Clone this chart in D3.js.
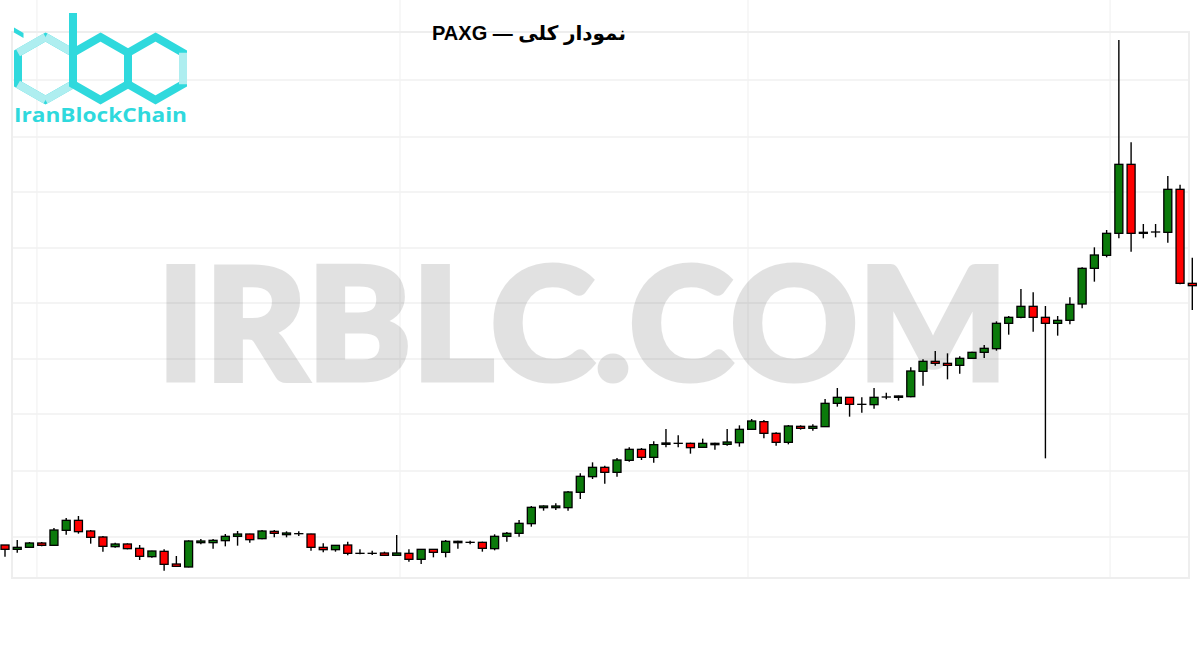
<!DOCTYPE html>
<html>
<head>
<meta charset="utf-8">
<script src="https://cdn.jsdelivr.net/npm/d3@7"></script>
<style>
  html, body { margin: 0; padding: 0; background: #ffffff; }
  svg { display: block; }
</style>
</head>
<body>
<svg id="chart" width="1200" height="650"></svg>
<script>
// ---------------- DATA ----------------
const titleText = "نمودار کلی — PAXG";
const watermarkText = "IRBLC.COM";
const logoText = "IranBlockChain";

// candle index labels (periods)
const periods = d3.range(1, 99);

const opens = [1865,1852,1858,1871,1864,1909,1939,1907,1889,1860,1868,1855,1830,1846,1808,1799,1872,1872,1878,1891,
  1898,1884,1906,1896,1899,1898,1858,1851,1865,1840,1840,1841,1834,1840,1822,1852,1843,1872,1873,1873,
  1854,1891,1900,1929,1977,1977,1977,2023,2070,2098,2083,2119,2152,2128,2167,2170,2170,2158,2166,2167,
  2172,2212,2235,2200,2173,2221,2215,2220,2290,2308,2287,2286,2309,2308,2310,2386,2416,2410,2404,2425,
  2443,2454,2530,2548,2581,2548,2530,2539,2588,2695,2734,2800,3007,2800,2804,2803,2932,2650];
const highs = [1865,1880,1874,1874,1916,1946,1952,1910,1892,1872,1870,1865,1848,1852,1832,1879,1883,1883,1898,1907,
  1899,1910,1910,1906,1906,1899,1870,1865,1875,1852,1848,1845,1895,1852,1853,1853,1880,1878,1878,1875,
  1897,1904,1940,1982,1984,1990,2027,2080,2113,2103,2126,2158,2156,2176,2213,2194,2172,2184,2172,2213,
  2224,2243,2240,2203,2225,2224,2227,2303,2336,2309,2308,2336,2322,2313,2398,2422,2447,2440,2431,2445,
  2465,2536,2552,2633,2623,2582,2552,2608,2698,2758,2810,3380,3073,2828,2828,2972,2946,2727];
const lows = [1830,1842,1857,1861,1863,1896,1899,1869,1845,1857,1852,1820,1827,1788,1800,1798,1867,1854,1861,1863,
  1872,1882,1888,1888,1892,1848,1843,1845,1834,1837,1835,1832,1833,1815,1808,1828,1828,1854,1867,1845,
  1849,1875,1890,1920,1968,1970,1968,2003,2063,2049,2070,2115,2120,2112,2158,2158,2139,2157,2151,2163,
  2160,2210,2185,2163,2167,2211,2208,2219,2280,2250,2262,2274,2302,2298,2308,2343,2403,2362,2379,2424,
  2426,2448,2496,2545,2505,2125,2493,2527,2575,2655,2728,2785,2745,2785,2788,2772,2647,2570];
const closes = [1852,1858,1871,1864,1910,1939,1905,1888,1861,1868,1854,1831,1847,1807,1801,1877,1877,1879,1891,1898,
  1881,1907,1900,1901,1899,1858,1851,1864,1840,1840,1840,1834,1841,1822,1852,1843,1876,1876,1873,1855,
  1891,1900,1930,1978,1982,1982,2024,2071,2098,2083,2120,2152,2128,2166,2171,2170,2157,2170,2170,2174,
  2212,2237,2200,2173,2222,2215,2221,2290,2308,2287,2287,2308,2309,2312,2387,2416,2410,2404,2425,2443,
  2455,2530,2548,2581,2548,2530,2539,2587,2695,2735,2800,3007,2800,2803,2804,2932,2650,2643];

// background grid levels (price units) and vertical grid positions (period units)
const gridLevels = [3260, 3089, 2924, 2756, 2591, 2423, 2258, 2087, 1889];
const gridPeriods = [3.61, 33.27, 61.7, 91.28];

// ---------------- DRAW ----------------
const svg = d3.select("#chart");
const W = 1200, H = 650;

svg.append("rect").attr("width", W).attr("height", H).attr("fill", "#ffffff");

const x = d3.scaleLinear().domain([1, 98]).range([5, 1192.3]);
const y = d3.scaleLinear().domain([1700, 3500]).range([600, 0]);

const frame = { x0: 12, x1: 1189, y0: 32, y1: 578 };

// grid
const grid = svg.append("g").attr("class", "grid");
grid.selectAll("line.h").data(gridLevels).join("line")
  .attr("class", "h")
  .attr("x1", frame.x0).attr("x2", frame.x1)
  .attr("y1", d => y(d)).attr("y2", d => y(d))
  .attr("stroke", "#f1f1f1").attr("stroke-width", 1.5);
grid.selectAll("line.v").data(gridPeriods).join("line")
  .attr("class", "v")
  .attr("x1", d => x(d)).attr("x2", d => x(d))
  .attr("y1", 0).attr("y2", frame.y1)
  .attr("stroke", "#f2f2f2").attr("stroke-width", 1.2);
grid.append("rect")
  .attr("x", frame.x0).attr("y", frame.y0)
  .attr("width", frame.x1 - frame.x0).attr("height", frame.y1 - frame.y0)
  .attr("fill", "none").attr("stroke", "#eeeeee").attr("stroke-width", 2);

// watermark (group opacity so the thickening stroke doesn't double-darken)
svg.append("g").attr("opacity", 0.115)
  .append("text")
  .attr("x", 157).attr("y", 380)
  .attr("textLength", 851).attr("lengthAdjust", "spacingAndGlyphs")
  .attr("font-family", "Lato, Inter, sans-serif")
  .attr("font-weight", 900)
  .attr("font-size", 156)
  .attr("fill", "#000").attr("stroke", "#000").attr("stroke-width", 5)
  .attr("stroke-linejoin", "miter")
  .text(watermarkText);

// candles
const candles = periods.map((p, i) => ({ p, o: opens[i], h: highs[i], l: lows[i], c: closes[i] }));
const bodyW = 8;
const cg = svg.append("g").attr("class", "candles");
const g = cg.selectAll("g").data(candles).join("g");
g.append("line")
  .attr("x1", d => x(d.p)).attr("x2", d => x(d.p))
  .attr("y1", d => y(d.h)).attr("y2", d => y(d.l))
  .attr("stroke", "#000").attr("stroke-width", 1.4);
g.append("rect")
  .attr("x", d => x(d.p) - bodyW / 2)
  .attr("width", bodyW)
  .attr("y", d => y(Math.max(d.o, d.c)))
  .attr("height", d => Math.max(0.01, Math.abs(y(d.o) - y(d.c))))
  .attr("fill", d => d.c > d.o ? "#0b7a0b" : (d.c < d.o ? "#ff0000" : "#000"))
  .attr("stroke", "#000").attr("stroke-width", 1.3);

// title
svg.append("text")
  .attr("x", 529).attr("y", 40)
  .attr("text-anchor", "middle")
  .attr("direction", "rtl")
  .attr("font-family", "'Liberation Sans', 'DejaVu Sans', sans-serif")
  .attr("font-weight", "bold")
  .attr("font-size", 20)
  .attr("fill", "#000")
  .text(titleText);

// logo
const dark = "#2fd9dd", light = "#aeeef0";
const logo = svg.append("g").attr("class", "logo");
const a = 27.5, s = 31.5, cy = 68.5, sw = 8;
function hexPts(cx) {
  return [[cx, cy - s], [cx + a, cy - s / 2], [cx + a, cy + s / 2], [cx, cy + s], [cx - a, cy + s / 2], [cx - a, cy - s / 2]];
}
const line = d3.line();
function drawHex(cx, lightIdx) {
  const pts = hexPts(cx);
  logo.append("path").attr("d", line(pts) + "Z")
    .attr("fill", "none").attr("stroke", dark).attr("stroke-width", sw).attr("stroke-linejoin", "miter");
  lightIdx.forEach(k => {
    logo.append("path").attr("d", line([pts[k], pts[(k + 1) % 6]]))
      .attr("stroke", light).attr("stroke-width", sw).attr("stroke-linecap", "butt");
  });
}
drawHex(45.5, [0, 2, 3, 5]);
// dot of the i
logo.append("path").attr("d", line([[14, 27.5], [23.5, 33], [23.5, 38], [14, 32.5]]) + "Z").attr("fill", dark);
drawHex(100.5, []);
// stem of the b
logo.append("rect").attr("x", 69).attr("y", 13).attr("width", sw).attr("height", 42).attr("fill", dark);
drawHex(155.5, [1]);
logo.append("text")
  .attr("x", 14).attr("y", 122)
  .attr("textLength", 173).attr("lengthAdjust", "spacingAndGlyphs")
  .attr("font-family", "'Open Sans', sans-serif")
  .attr("font-weight", 700)
  .attr("font-size", 19)
  .attr("fill", dark)
  .text(logoText);
</script>
</body>
</html>
